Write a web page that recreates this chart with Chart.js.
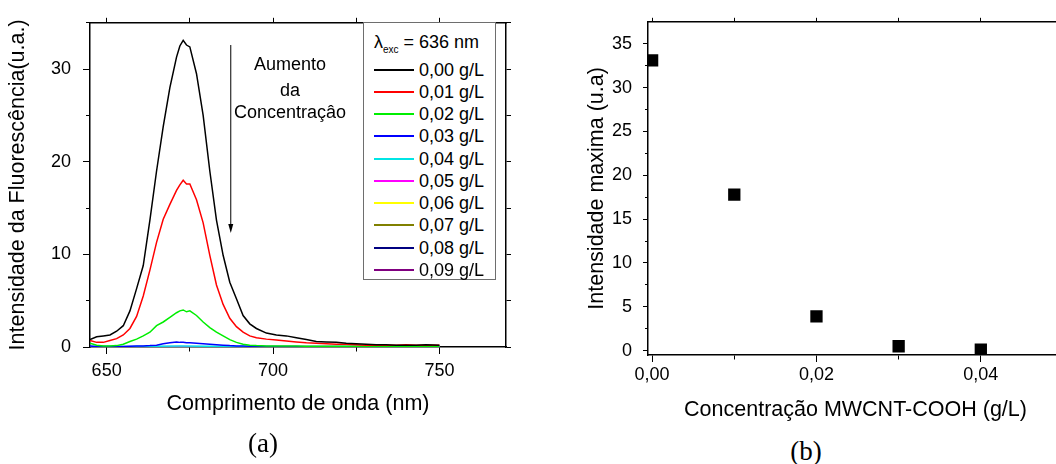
<!DOCTYPE html>
<html lang="pt">
<head>
<meta charset="UTF-8">
<title>Fluorescência x concentração</title>
<script src="https://cdn.jsdelivr.net/npm/chart.js"></script>
<style>
  html, body {
    margin: 0;
    padding: 0;
    width: 1056px;
    height: 464px;
    overflow: hidden;
    background: #fff;
    position: relative;
    font-family: "Liberation Sans", Arial, sans-serif;
  }
  #boxA { position: absolute; left: 0; top: 0; width: 540px; height: 430px; }
  #boxB { position: absolute; left: 560px; top: 0; width: 560px; height: 430px; }
  .panel {
    position: absolute;
    font-family: "Liberation Serif", "Times New Roman", serif;
    font-size: 27px;
    transform: translate(-50%, -50%);
  }
  #legend {
    position: absolute;
    left: 363px;
    top: 22px;
    width: 131px;
    height: 256px;
    border: 1.5px solid #6e6e6e;
    background: #fff;
    font-size: 18px;
  }
  #legend .row { position: absolute; left: 0; height: 22px; line-height: 22px; white-space: nowrap; }
  #legend .swatch { position: absolute; left: 10px; top: 10px; width: 40px; height: 2px; }
  #legend .txt { position: absolute; left: 55px; top: 0; }
  #legend sub { font-size: 10px; vertical-align: -5px; }
</style>
</head>
<body>
  <div id="boxA"><canvas id="spectra"></canvas></div>
  <div id="boxB"><canvas id="peaks"></canvas></div>
  <div id="legend"></div>
  <div class="panel" style="left:263px; top:443px;">(a)</div>
  <div class="panel" style="left:806px; top:451px;">(b)</div>
  <script>
    // ---- dados (a): espectros de emissão ----
    const wavelength = [645, 647, 649, 651, 653, 655, 657, 659, 661, 663,
      665, 667, 669, 671, 672, 673, 674, 675, 677, 679, 681, 683, 685, 687, 689,
      691, 693, 695, 698, 701, 704, 707, 710, 713, 716, 719, 722, 725, 728, 731,
      734, 737, 740, 743, 746, 750];

    const conc000 = [0.8, 1.1, 1.2, 1.3, 1.7, 2.3, 3.9, 6.3, 8.8, 13.7,
      19.0, 23.8, 28.0, 31.3, 32.5, 33.1, 32.6, 32.4, 29.5, 25.0, 19.0, 13.7, 9.9, 7.0, 5.2,
      3.4, 2.5, 2.0, 1.5, 1.3, 1.2, 1.0, 0.8, 0.6, 0.55, 0.5, 0.4, 0.35, 0.3, 0.25,
      0.25, 0.2, 0.2, 0.2, 0.25, 0.2];
    const conc001 = [0.7, 0.5, 0.5, 0.7, 0.9, 1.3, 2.0, 3.3, 5.5, 8.3,
      11.3, 13.8, 15.4, 16.9, 17.5, 18.0, 17.6, 17.6, 15.9, 13.4, 9.9, 6.7, 4.6, 3.1, 2.2,
      1.6, 1.2, 1.0, 0.85, 0.75, 0.65, 0.55, 0.45, 0.4, 0.35, 0.3, 0.3, 0.25, 0.2, 0.2,
      0.2, 0.2, 0.25, 0.2, 0.2, 0.2];
    const conc002 = [0.4, 0.2, 0.1, 0.1, 0.15, 0.3, 0.6, 0.85, 1.2, 1.6,
      2.3, 2.7, 3.2, 3.7, 3.9, 4.0, 3.8, 3.9, 3.4, 2.7, 2.1, 1.6, 1.2, 0.8, 0.5,
      0.3, 0.2, 0.15, 0.1, 0.1, 0.1, 0.1, 0.08, 0.08, 0.08, 0.08, 0.08, 0.08, 0.08, 0.08,
      0.08, 0.1, 0.08, 0.08, 0.08, 0.08];
    const conc003 = [0.1, 0.05, 0.05, 0.05, 0.05, 0.05, 0.08, 0.1, 0.12, 0.15,
      0.2, 0.35, 0.45, 0.55, 0.5, 0.5, 0.45, 0.45, 0.4, 0.35, 0.3, 0.25, 0.2, 0.15, 0.12,
      0.1, 0.08, 0.08, 0.05, 0.05, 0.05, 0.05, 0.05, 0.05, 0.05, 0.05, 0.05, 0.05, 0.05, 0.05,
      0.05, 0.05, 0.05, 0.05, 0.05, 0.05];

    // curvas quase nulas: menos pontos
    const wavelengthLow = [645, 655, 665, 672, 680, 690, 710, 750];
    const conc004 = [0.05, 0.05, 0.08, 0.1, 0.08, 0.05, 0.04, 0.03];
    const conc005 = [0.03, 0.03, 0.04, 0.05, 0.04, 0.03, 0.03, 0.02];
    const conc006 = [0.03, 0.03, 0.03, 0.04, 0.03, 0.03, 0.02, 0.02];
    const conc007 = [0.02, 0.02, 0.03, 0.04, 0.03, 0.02, 0.02, 0.02];
    const conc008 = [0.02, 0.02, 0.03, 0.03, 0.03, 0.02, 0.02, 0.02];
    const conc009 = [0.02, 0.02, 0.02, 0.03, 0.02, 0.02, 0.02, 0.02];

    const seriesLabels = ["0,00 g/L", "0,01 g/L", "0,02 g/L", "0,03 g/L", "0,04 g/L",
      "0,05 g/L", "0,06 g/L", "0,07 g/L", "0,08 g/L", "0,09 g/L"];
    const seriesColors = ["#000000", "#ff0000", "#00ee00", "#0000ff", "#00e5e5",
      "#ff00ff", "#ffff00", "#808000", "#000080", "#800080"];
    const seriesValues = [conc000, conc001, conc002, conc003, conc004,
      conc005, conc006, conc007, conc008, conc009];

    const xTicksA = [650, 675, 700, 725, 750];
    const xLabelsA = [650, 700, 750];
    const yTicksA = [0, 5, 10, 15, 20, 25, 30, 35];
    const yLabelsA = [0, 10, 20, 30];

    // ---- dados (b): intensidade máxima ----
    const concentration = [0, 0.01, 0.02, 0.03, 0.04];
    const maxIntensity = [33.1, 17.8, 3.9, 0.5, 0.1];
    const xTicksB = [0, 0.01, 0.02, 0.03, 0.04, 0.05];
    const xLabelsB = [0, 0.02, 0.04];
    const yTicksB = [0, 2.5, 5, 7.5, 10, 12.5, 15, 17.5, 20, 22.5, 25, 27.5, 30, 32.5, 35];
    const yLabelsB = [0, 5, 10, 15, 20, 25, 30, 35];

    Chart.defaults.font.family = '"Liberation Sans", Arial, sans-serif';
    Chart.defaults.color = "#000";

    const titleFont = { size: 21.5 };
    const tickFont = { size: 18 };
    const setTicks = (vals) => (scale) => { scale.ticks = vals.map(v => ({ value: v })); };

    // eixo com marcas maiores/menores (menor = parte interna do traço via dash)
    function axis(opts) {
      return {
        type: "linear",
        position: opts.position,
        min: opts.min,
        max: opts.max,
        afterBuildTicks: setTicks(opts.ticks),
        afterFit: opts.fit,
        border: { display: true, color: "#000", width: 1.5 },
        grid: {
          drawOnChartArea: false,
          drawTicks: true,
          color: "#000",
          lineWidth: 1,
          tickLength: opts.tickLength,
          tickBorderDash: (ctx) => {
            if (!opts.labels || !ctx.tick) return [];
            if (opts.labels.includes(ctx.tick.value)) return [];
            return opts.minorDash;
          }
        },
        ticks: {
          display: !!opts.labels,
          font: tickFont,
          padding: opts.padding || 0,
          autoSkip: false,
          maxRotation: 0,
          callback: opts.format
        },
        title: opts.title ? {
          display: true,
          text: opts.title,
          font: titleFont,
          padding: opts.titlePadding
        } : { display: false }
      };
    }

    // anotação "Aumento da Concentração" com seta
    const arrowNm = 687.3, arrowTop = 32.6, arrowBottom = 12.3;
    const noteNm = 705.1;
    const noteLines = [["Aumento", 30.4], ["da", 27.6], ["Concentraçâo", 25.3]];

    const notePlugin = {
      id: "note",
      afterDatasetsDraw(chart) {
        const { ctx, scales: { x, y } } = chart;
        const ax = x.getPixelForValue(arrowNm);
        const y0 = y.getPixelForValue(arrowTop);
        const y1 = y.getPixelForValue(arrowBottom);
        ctx.save();
        ctx.strokeStyle = "#000";
        ctx.fillStyle = "#000";
        ctx.lineWidth = 1;
        ctx.beginPath();
        ctx.moveTo(ax, y0);
        ctx.lineTo(ax, y1 - 6);
        ctx.stroke();
        ctx.beginPath();
        ctx.moveTo(ax, y1);
        ctx.lineTo(ax - 2.5, y1 - 9);
        ctx.lineTo(ax + 2.5, y1 - 9);
        ctx.closePath();
        ctx.fill();
        ctx.font = '18px "Liberation Sans", Arial, sans-serif';
        ctx.textAlign = "center";
        ctx.textBaseline = "middle";
        const nx = x.getPixelForValue(noteNm);
        noteLines.forEach(([t, v]) => ctx.fillText(t, nx, y.getPixelForValue(v)));
        ctx.restore();
      }
    };

    const spectraSets = seriesValues.map((vals, i) => {
      const xs = vals.length === wavelength.length ? wavelength : wavelengthLow;
      return {
        label: seriesLabels[i],
        data: vals.map((v, k) => ({ x: xs[k], y: v })),
        borderColor: seriesColors[i],
        borderWidth: 1.5,
        pointRadius: 0,
        tension: 0,
        fill: false
      };
    });

    new Chart(document.getElementById("spectra"), {
      type: "line",
      data: { datasets: spectraSets },
      options: {
        responsive: true,
        maintainAspectRatio: false,
        animation: false,
        layout: { padding: { left: 0, top: 10, right: 28, bottom: 13 } },
        plugins: { legend: { display: false }, tooltip: { enabled: false } },
        scales: {
          x: axis({
            position: "bottom", min: 645, max: 770, ticks: xTicksA, labels: xLabelsA,
            tickLength: 7, minorDash: [4, 20], padding: 6,
            format: (v) => xLabelsA.includes(v) ? String(v) : "",
            fit: (s) => { s.height = 70; },
            title: "Comprimento de onda (nm)", titlePadding: { top: 0, bottom: 0 }
          }),
          x2: axis({
            position: "top", min: 645, max: 770, ticks: xTicksA,
            tickLength: 5, fit: (s) => { s.height = 5; }
          }),
          y: axis({
            position: "left", min: 0, max: 35, ticks: yTicksA, labels: yLabelsA,
            tickLength: 7, minorDash: [0, 3, 4, 20], padding: 12,
            format: (v) => yLabelsA.includes(v) ? String(v) : "",
            fit: (s) => { s.width = 90; },
            title: "Intensidade da Fluorescência(u.a.)", titlePadding: { top: 5, bottom: 0 }
          }),
          y2: axis({
            position: "right", min: 0, max: 35, ticks: yTicksA,
            tickLength: 5, fit: (s) => { s.width = 6; }
          })
        }
      },
      plugins: [notePlugin]
    });

    const fmtComma = (v) => xLabelsB.includes(v) ? v.toFixed(2).replace(".", ",") : "";

    new Chart(document.getElementById("peaks"), {
      type: "scatter",
      data: {
        datasets: [{
          label: "Intensidade maxima",
          data: concentration.map((c, i) => ({ x: c, y: maxIntensity[i] })),
          pointStyle: "rect",
          pointRadius: 8.7,
          pointHoverRadius: 8.7,
          backgroundColor: "#000",
          borderWidth: 0
        }]
      },
      options: {
        responsive: true,
        maintainAspectRatio: false,
        animation: false,
        layout: { padding: { left: 0, top: 12, right: 57, bottom: 7 } },
        plugins: { legend: { display: false }, tooltip: { enabled: false } },
        scales: {
          x: axis({
            position: "bottom", min: -0.0005, max: 0.05, ticks: xTicksB, labels: xLabelsB,
            tickLength: 7, minorDash: [4, 20], padding: 2,
            format: fmtComma,
            fit: (s) => { s.height = 68; },
            title: "Concentração MWCNT-COOH (g/L)", titlePadding: { top: 0, bottom: 0 }
          }),
          x2: axis({
            position: "top", min: -0.0005, max: 0.05, ticks: xTicksB,
            tickLength: 4, fit: (s) => { s.height = 4; }
          }),
          y: axis({
            position: "left", min: -0.5, max: 37.5, ticks: yTicksB, labels: yLabelsB,
            tickLength: 5, minorDash: [0, 2, 3, 20], padding: 11,
            format: (v) => yLabelsB.includes(v) ? String(v) : "",
            fit: (s) => { s.width = 88; },
            title: "Intensidade maxima (u.a)", titlePadding: { top: 24, bottom: 0 }
          })
        }
      }
    });

    // legenda em caixa, como no original
    const legend = document.getElementById("legend");
    const head = document.createElement("div");
    head.className = "row";
    head.style.top = "8px";
    head.style.left = "10px";
    head.innerHTML = "λ<sub>exc</sub> = 636 nm";
    legend.appendChild(head);
    seriesLabels.forEach((lab, i) => {
      const row = document.createElement("div");
      row.className = "row";
      row.style.top = (70 + 22.25 * i - 11 - 23.5) + "px";
      row.style.width = "131px";
      row.innerHTML = '<span class="swatch" style="background:' + seriesColors[i] + '"></span>' +
        '<span class="txt">' + lab + '</span>';
      legend.appendChild(row);
    });
  </script>
</body>
</html>
